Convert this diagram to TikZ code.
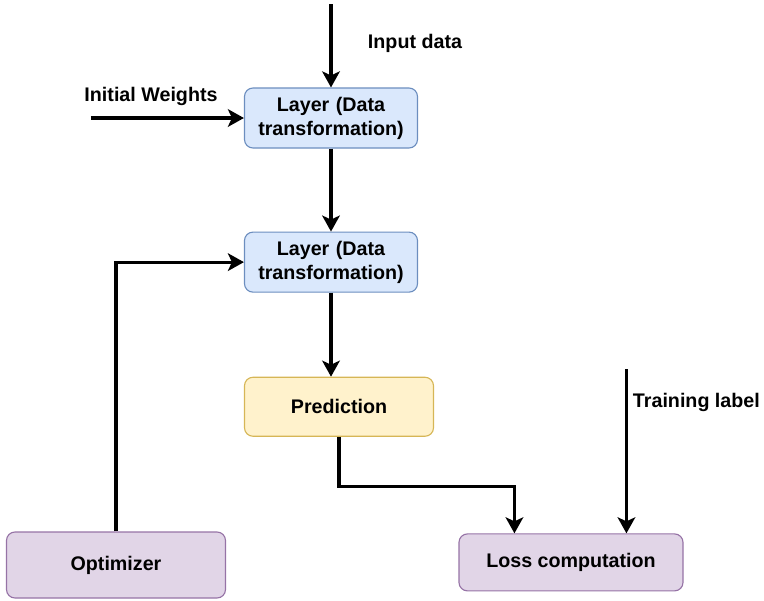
\documentclass[tikz,border=0pt]{standalone}
\usepackage{fontspec}
\setmainfont{Liberation Sans}
\usepackage{tikz}
\usetikzlibrary{arrows.meta, positioning, calc}

\definecolor{layerfill}{HTML}{DAE8FC}
\definecolor{layerdraw}{HTML}{6C8EBF}
\definecolor{predfill}{HTML}{FFF2CC}
\definecolor{preddraw}{HTML}{D6B656}
\definecolor{optfill}{HTML}{E1D5E7}
\definecolor{optdraw}{HTML}{9673A6}

\begin{document}
\begin{tikzpicture}[
      every node/.style = {font=\fontsize{14pt}{17pt}\selectfont\bfseries},
      blk/.style = {
        rectangle, rounded corners=6pt,
        text centered, inner sep=0pt,
        draw, line width=0.8pt
      },
      clayer/.style = {blk, fill=layerfill, draw=layerdraw,
                       minimum width=4.325cm, minimum height=1.5cm,
                       text width=4.2cm},
      cpred/.style  = {blk, fill=predfill, draw=preddraw,
                       minimum width=4.725cm, minimum height=1.475cm},
      copt/.style   = {blk, fill=optfill, draw=optdraw},
      lbl/.style = {font=\fontsize{14pt}{17pt}\selectfont\bfseries},
      arr/.style = {-{Stealth[length=0.4cm, width=0.44cm, inset=0.1cm]},
                    line width=2.2pt, black},
    ]
    \useasboundingbox (0,0) rectangle (19.1,-15);
    \node[clayer] (layer1) at (8.275,-2.95) {Layer (Data\\transformation)};
    \node[clayer, below=2.075cm of layer1] (layer2) {Layer (Data\\transformation)};
    \node[cpred, below right=2.1cm and 0cm of layer2.south west] (pred) {Prediction};
    \node[copt, minimum width=5.475cm, minimum height=1.65cm]
      (optim) at (2.9,-14.125) {Optimizer};
    \node[copt, minimum width=5.6cm, minimum height=1.425cm]
      (loss) at (14.275,-14.06) {Loss computation};
    % free ends of the incoming arrows
    \coordinate[above=2.075cm of layer1] (indata);
    \coordinate[left=3.825cm of layer1.west] (initw);
    \coordinate (lossin) at ($(loss.north west)+(1.4,0)$);
    \coordinate (labelin) at ($(loss.north west)+(4.2,0)$);
    \coordinate[above=4.1cm of labelin] (trainlbl);
    \draw[arr] (indata) -- (layer1);
    \node[lbl] at (10.375,-1.075) {Input data};
    \draw[arr] (initw) -- (layer1.west);
    \node[lbl] at (3.775,-2.4) {Initial Weights};
    \draw[arr] (layer1) -- (layer2);
    \draw[arr] (layer2.south) -- (layer2.south |- pred.north);
    \draw[arr] (optim.north) |- (layer2.west);
    \draw[arr] (pred.south) -- ++(0,-1.25) -| (lossin);
    \draw[arr] (trainlbl) -- (labelin);
    \node[lbl, anchor=west] at (15.7,-10.05) {Training label};
\end{tikzpicture}
\end{document}
